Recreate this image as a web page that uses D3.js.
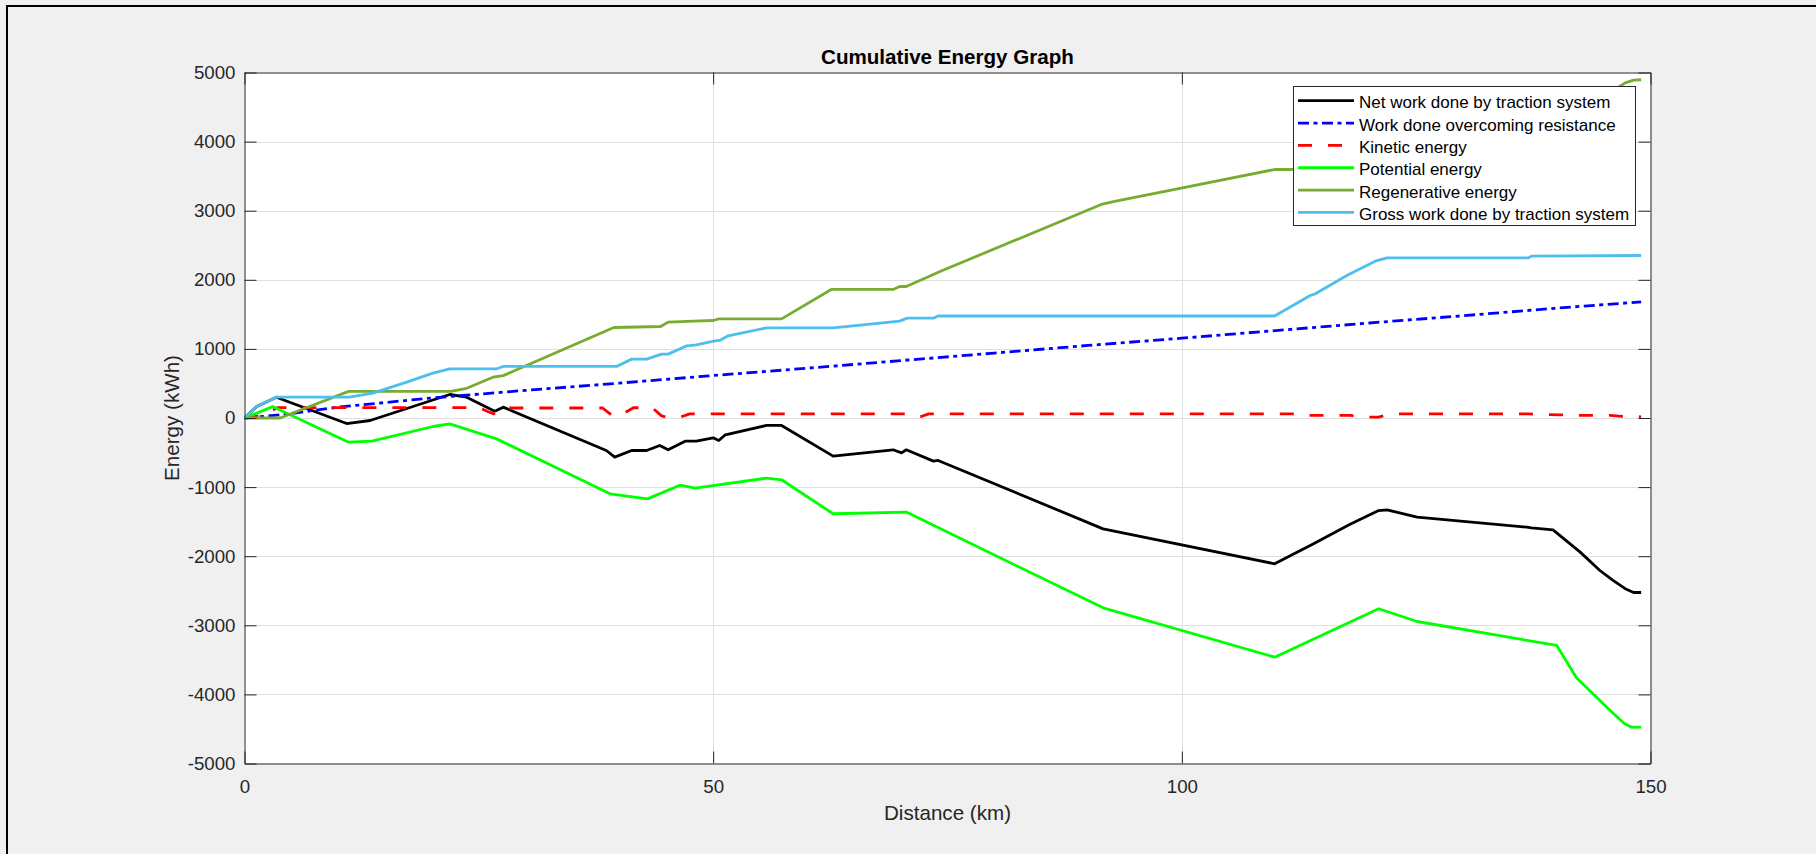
<!DOCTYPE html>
<html>
<head>
<meta charset="utf-8">
<script src="https://cdn.jsdelivr.net/npm/d3@7"></script>
<style>
  html, body { margin: 0; padding: 0; background: #f0f0f0; }
  svg { display: block; }
  text { font-family: "Liberation Sans", Arial, Helvetica, sans-serif; }
</style>
</head>
<body>
<svg id="chart" width="1816" height="854"></svg>
<script>
// Cumulative energy along the route: [distance km, energy kWh]
const netWork = [[0,0],[1.3,167],[3.4,300],[10.9,-80],[13.4,-36],[21.9,340],[23.7,302],[26.7,99],[27.6,157],[38.6,-470],[39.5,-566],[41.3,-470],[42.9,-470],[44.3,-398],[45.2,-460],[47.0,-335],[48.2,-335],[50.0,-287],[50.6,-325],[51.3,-243],[55.7,-108],[57.3,-108],[62.8,-552],[69.2,-460],[70.1,-504],[70.6,-460],[73.5,-624],[74.0,-614],[91.6,-1604],[109.9,-2110],[113.9,-1831],[117.9,-1541],[121.0,-1339],[121.9,-1329],[125.1,-1435],[136.8,-1580],[137.3,-1589],[139.6,-1618],[142.5,-1941],[144.6,-2207],[146.0,-2350],[147.3,-2470],[148.2,-2525],[149.0,-2525]];
const resistanceWork = [[0,0],[3.8,45],[10.2,160],[20,290],[30,400],[40,505],[50,615],[60,720],[70,830],[80,940],[90,1050],[100,1155],[110,1265],[120,1375],[130,1480],[140,1590],[149,1680]];
const kineticEnergy = [[0,0],[2.0,40],[3.5,150],[25.0,150],[26.0,90],[26.6,60],[27.5,145],[38.2,145],[39.0,60],[39.7,20],[40.5,70],[41.5,148],[43.5,148],[44.5,30],[45.0,13],[46.5,13],[47.5,60],[70.5,60],[71.2,22],[72.2,22],[73.0,60],[113.0,60],[113.5,37],[118.0,37],[119.3,13],[121.0,13],[122.2,60],[137.0,60],[138.6,51],[140.5,45],[141.8,37],[145.7,37],[147.0,25],[149.0,17]];
const potentialEnergy = [[0,0],[3.0,165],[11.1,-350],[13.6,-336],[20.1,-123],[21.9,-85],[26.9,-302],[39.0,-1097],[43.0,-1170],[46.5,-970],[48.1,-1015],[55.7,-870],[57.3,-894],[62.8,-1386],[70.6,-1362],[91.6,-2747],[109.9,-3461],[121.0,-2761],[125.1,-2945],[140.0,-3292],[142.1,-3760],[145.7,-4232],[147.2,-4420],[148.0,-4475],[149.0,-4475]];
const regenerativeEnergy = [[0,0],[3.8,0],[11.1,385],[22.0,385],[23.7,430],[26.5,590],[27.6,613],[39.4,1310],[44.4,1324],[45.2,1387],[47.9,1402],[50.0,1411],[50.6,1435],[57.3,1435],[62.6,1860],[69.2,1860],[69.9,1903],[70.6,1903],[73.5,2077],[74.2,2120],[91.4,3090],[92.7,3130],[109.9,3596],[111.7,3596],[146.5,4780],[147.3,4850],[148.2,4890],[149.0,4895]];
const grossWork = [[0,0],[1.3,167],[3.4,302],[11.2,302],[13.7,360],[17.3,519],[20.1,649],[21.9,712],[26.9,712],[27.6,746],[39.7,746],[41.3,852],[42.9,852],[44.5,924],[45.2,924],[47.2,1045],[48.2,1059],[50.2,1115],[50.7,1122],[51.6,1190],[55.7,1305],[62.8,1305],[69.9,1402],[70.7,1445],[73.5,1445],[74.0,1476],[109.9,1476],[113.7,1773],[114.2,1795],[117.6,2062],[120.8,2279],[121.9,2318],[137.0,2318],[137.3,2342],[149.0,2352]];

const seriesNames = ["Net work done by traction system","Work done overcoming resistance","Kinetic energy","Potential energy","Regenerative energy","Gross work done by traction system"];
const seriesData = [netWork, resistanceWork, kineticEnergy, potentialEnergy, regenerativeEnergy, grossWork];
const seriesColors = ["#000000","#0000ff","#ff0000","#00ff00","#77ac30","#4dbeee"];
const seriesDash = [null, "11,4.5,4,4.5", "14,16", null, null, null];

const xTicks = [0, 50, 100, 150];
const yTicks = [-5000,-4000,-3000,-2000,-1000,0,1000,2000,3000,4000,5000];

const svg = d3.select("#chart");
const W = 1816, H = 854;
const plot = { left: 244.5, right: 1650.5, top: 72.5, bottom: 763.5 };
const lineWidth = 2.8;

svg.append("rect").attr("width", W).attr("height", H).attr("fill", "#f0f0f0");
// window frame edges
svg.append("line").attr("x1", 7).attr("x2", 7).attr("y1", 5).attr("y2", H).attr("stroke", "#000").attr("stroke-width", 2);
svg.append("line").attr("x1", 6).attr("x2", W).attr("y1", 6).attr("y2", 6).attr("stroke", "#000").attr("stroke-width", 2);

const x = d3.scaleLinear().domain([0, 150]).range([plot.left, plot.right]);
const y = d3.scaleLinear().domain([-5000, 5000]).range([plot.bottom, plot.top]);

svg.append("rect")
  .attr("x", plot.left).attr("y", plot.top)
  .attr("width", plot.right - plot.left).attr("height", plot.bottom - plot.top)
  .attr("fill", "#ffffff");

const axisColor = "#262626";
const gridColor = "#dfdfdf";
const tickLen = 12;

// grid
const grid = svg.append("g");
grid.selectAll("line.gx").data(xTicks.slice(1, -1)).join("line")
  .attr("x1", d => Math.round(x(d)) + 0.5).attr("x2", d => Math.round(x(d)) + 0.5)
  .attr("y1", plot.top).attr("y2", plot.bottom)
  .attr("stroke", gridColor).attr("stroke-width", 1);
grid.selectAll("line.gy").data(yTicks.slice(1, -1)).join("line")
  .attr("y1", d => Math.round(y(d)) + 0.5).attr("y2", d => Math.round(y(d)) + 0.5)
  .attr("x1", plot.left).attr("x2", plot.right)
  .attr("stroke", gridColor).attr("stroke-width", 1);

// series
svg.append("clipPath").attr("id", "plotClip").append("rect")
  .attr("x", plot.left).attr("y", plot.top)
  .attr("width", plot.right - plot.left).attr("height", plot.bottom - plot.top);

const line = d3.line().x(d => x(d[0])).y(d => y(d[1]));
const lines = svg.append("g").attr("clip-path", "url(#plotClip)");
seriesData.forEach((data, i) => {
  lines.append("path")
    .attr("d", line(data))
    .attr("fill", "none")
    .attr("stroke", seriesColors[i])
    .attr("stroke-width", lineWidth)
    .attr("stroke-linejoin", "round")
    .attr("stroke-dasharray", seriesDash[i]);
});

// axes (box with inward ticks on all sides)
const fontTick = 18.7;
const plain = d => String(d);
const xAxisB = d3.axisBottom(x).tickValues(xTicks).tickFormat(plain).tickSizeInner(-tickLen).tickSizeOuter(0).tickPadding(16);
const xAxisT = d3.axisTop(x).tickValues(xTicks).tickSizeInner(-tickLen).tickSizeOuter(0).tickFormat("");
const yAxisL = d3.axisLeft(y).tickValues(yTicks).tickFormat(plain).tickSizeInner(-tickLen).tickSizeOuter(0).tickPadding(9);
const yAxisR = d3.axisRight(y).tickValues(yTicks).tickSizeInner(-tickLen).tickSizeOuter(0).tickFormat("");

function styleAxis(g) {
  g.select(".domain").attr("stroke", axisColor).attr("stroke-width", 1);
  g.selectAll(".tick line").attr("stroke", axisColor).attr("stroke-width", 1);
  g.selectAll(".tick text").attr("fill", axisColor)
    .style("font-size", fontTick + "px")
    .style("font-family", "'Liberation Sans', Arial, Helvetica, sans-serif");
}
svg.append("g").attr("transform", `translate(0,${plot.bottom})`).call(xAxisB).call(styleAxis);
svg.append("g").attr("transform", `translate(0,${plot.top})`).call(xAxisT).call(styleAxis);
svg.append("g").attr("transform", `translate(${plot.left},0)`).call(yAxisL).call(styleAxis);
svg.append("g").attr("transform", `translate(${plot.right},0)`).call(yAxisR).call(styleAxis);

// title and axis labels
const midX = (plot.left + plot.right) / 2;
svg.append("text").attr("x", midX).attr("y", 64).attr("text-anchor", "middle")
  .style("font-size", "20.6px").style("font-weight", "bold").attr("fill", "#000")
  .text("Cumulative Energy Graph");
svg.append("text").attr("x", midX).attr("y", 820).attr("text-anchor", "middle")
  .style("font-size", "20.6px").attr("fill", axisColor)
  .text("Distance (km)");
svg.append("text")
  .attr("transform", `translate(172,${(plot.top + plot.bottom) / 2}) rotate(-90)`)
  .attr("text-anchor", "middle").attr("dy", "0.35em")
  .style("font-size", "20.6px").attr("fill", axisColor)
  .text("Energy (kWh)");

// legend
const leg = { x: 1293.5, y: 86.5, w: 342, h: 139, rowY: 100.7, rowStep: 22.35 };
const lg = svg.append("g");
lg.append("rect").attr("x", leg.x).attr("y", leg.y).attr("width", leg.w).attr("height", leg.h)
  .attr("fill", "#fff").attr("stroke", axisColor).attr("stroke-width", 1);
seriesNames.forEach((name, i) => {
  const yy = leg.rowY + i * leg.rowStep;
  lg.append("line").attr("x1", 1298).attr("x2", 1354).attr("y1", yy).attr("y2", yy)
    .attr("stroke", seriesColors[i]).attr("stroke-width", lineWidth)
    .attr("stroke-dasharray", seriesDash[i]);
  lg.append("text").attr("x", 1359).attr("y", yy + 7.5)
    .style("font-size", "17px").attr("fill", "#000").text(name);
});
</script>
</body>
</html>
